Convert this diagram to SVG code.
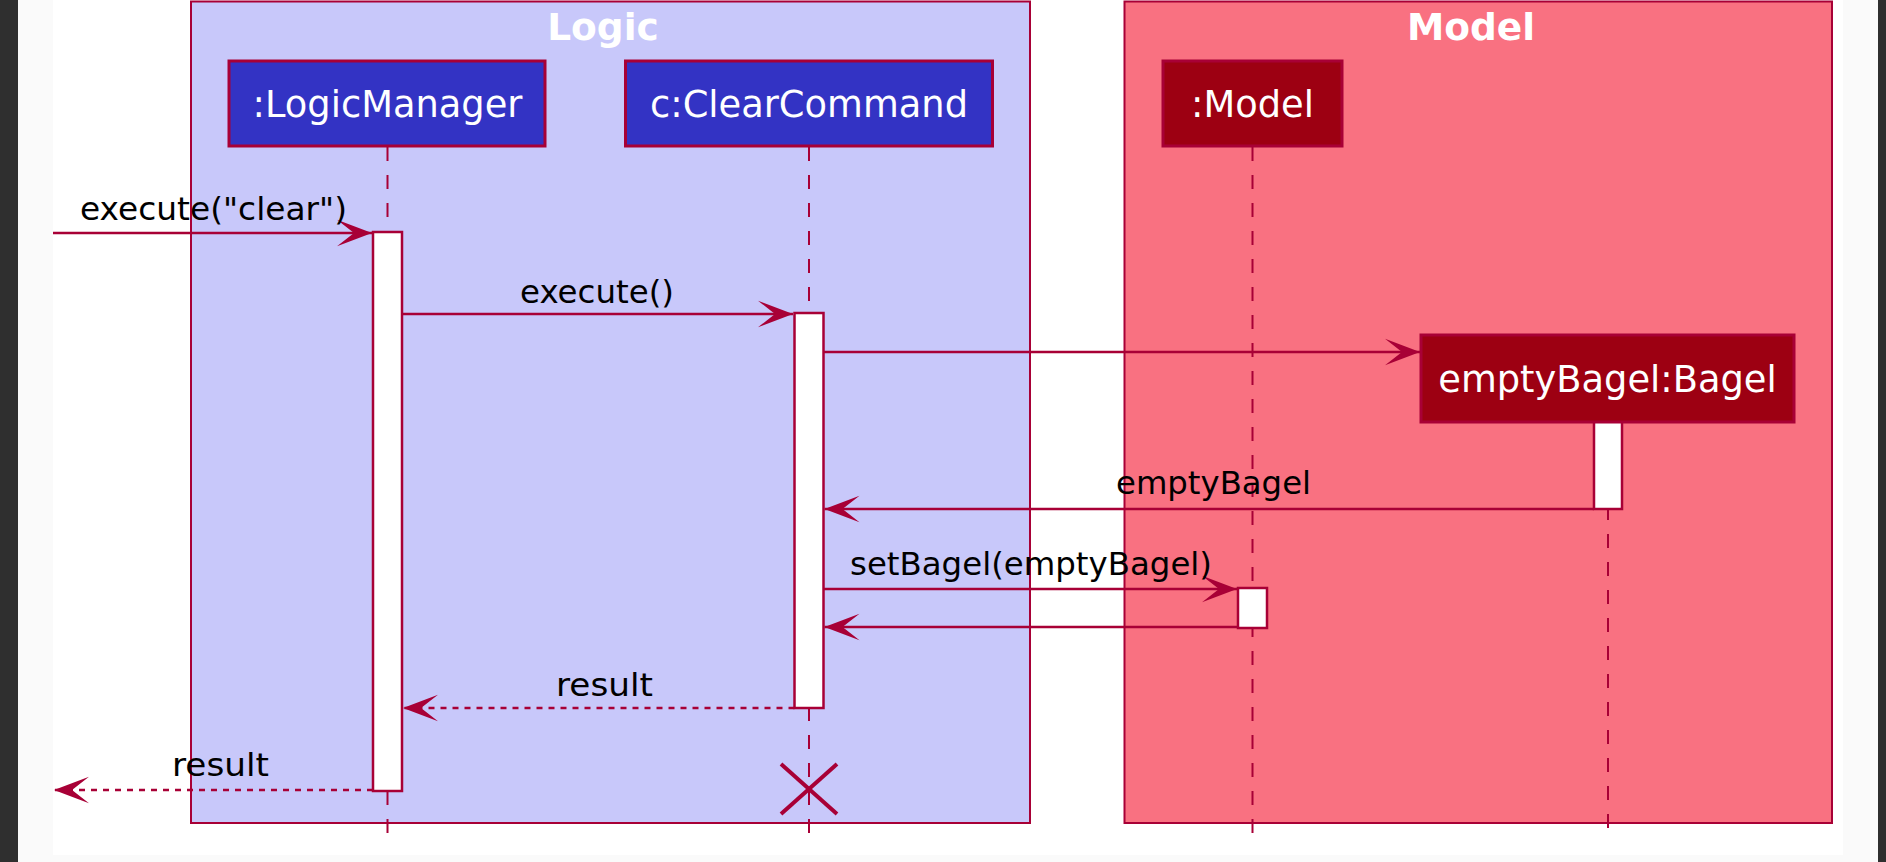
<svg xmlns="http://www.w3.org/2000/svg" width="1886" height="862" viewBox="0 0 1886 862">
  <defs>
    <style>
      .frame { stroke: #A80036; stroke-width: 2; }
      .title { font-family: "DejaVu Sans", sans-serif; font-weight: bold; font-size: 37.5px; fill: #FFFFFF; text-anchor: middle; }
      .part { stroke: #A80036; stroke-width: 3; }
      .ptext { font-family: "DejaVu Sans", sans-serif; font-size: 36.8px; fill: #FFFFFF; text-anchor: middle; }
      .life { stroke: #A80036; stroke-width: 2; stroke-dasharray: 14,14; fill: none; }
      .act { fill: #FFFFFF; stroke: #A80036; stroke-width: 2.5; }
      .msg { stroke: #A80036; stroke-width: 2.5; fill: none; marker-end: url(#arr); }
      .ret { stroke-dasharray: 6,6; }
      .mtext { font-family: "DejaVu Sans", sans-serif; font-size: 32.5px; fill: #000000; }
    </style>
    <marker id="arr" markerUnits="userSpaceOnUse" markerWidth="36" markerHeight="28" viewBox="0 0 36 28" refX="35" refY="14" orient="auto">
      <path d="M35,14 L0,0.7 L17,14 L0,27.3 Z" fill="#A80036"/>
    </marker>
  </defs>

  <!-- page background -->
  <rect x="0" y="0" width="1886" height="862" fill="#FAFAFA"/>
  <rect x="53" y="0" width="1790" height="855" fill="#FFFFFF"/>
  <rect x="0" y="0" width="18" height="862" fill="#2F2F2F"/>
  <rect x="1878" y="0" width="8" height="862" fill="#2F2F2F"/>

  <!-- boxes -->
  <g id="box-logic">
    <rect class="frame" x="191" y="1.5" width="839" height="821.5" fill="#C8C8FA"/>
    <text class="title" x="603" y="39.5">Logic</text>
  </g>
  <g id="box-model">
    <rect class="frame" x="1124.5" y="1.5" width="707.5" height="821.5" fill="#F97181"/>
    <text class="title" x="1471" y="39.5">Model</text>
  </g>

  <!-- lifelines -->
  <g id="lifelines">
    <line class="life" x1="387.5" y1="147" x2="387.5" y2="841"/>
    <line class="life" x1="809" y1="147" x2="809" y2="841"/>
    <line class="life" x1="1252.5" y1="147" x2="1252.5" y2="841"/>
    <line class="life" x1="1608" y1="422" x2="1608" y2="841"/>
  </g>

  <!-- participants -->
  <g id="logicManager">
    <rect class="part" x="229" y="61" width="316" height="85" fill="#3333C4"/>
    <text class="ptext" x="387.5" y="117">:LogicManager</text>
    <rect class="act" x="373" y="232" width="29" height="559"/>
  </g>
  <g id="clearCommand">
    <rect class="part" x="625.5" y="61" width="367" height="85" fill="#3333C4"/>
    <text class="ptext" x="809" y="117">c:ClearCommand</text>
    <rect class="act" x="794.5" y="313" width="29" height="395"/>
    <g id="destroy">
      <line x1="781" y1="764" x2="837" y2="814" stroke="#A80036" stroke-width="4"/>
      <line x1="837" y1="764" x2="781" y2="814" stroke="#A80036" stroke-width="4"/>
    </g>
  </g>
  <g id="model">
    <rect class="part" x="1163" y="61" width="179" height="85" fill="#9D0012"/>
    <text class="ptext" x="1252.5" y="117">:Model</text>
    <rect class="act" x="1238" y="588" width="29" height="40"/>
  </g>
  <g id="emptyBagel">
    <rect class="act" x="1594" y="421" width="28" height="88"/>
    <rect class="part" x="1421" y="335" width="373" height="87" fill="#9D0012"/>
    <text class="ptext" x="1607.5" y="391.5">emptyBagel:Bagel</text>
  </g>

  <!-- connectors -->
  <g id="connectors">
    <line class="msg" x1="53" y1="233" x2="372" y2="233"/>
    <text class="mtext" x="80" y="220" textLength="267" lengthAdjust="spacingAndGlyphs">execute("clear")</text>

    <line class="msg" x1="402" y1="314" x2="793" y2="314"/>
    <text class="mtext" x="520" y="303" textLength="154" lengthAdjust="spacingAndGlyphs">execute()</text>

    <line class="msg" x1="823.5" y1="352" x2="1420" y2="352"/>

    <line class="msg" x1="1594" y1="509" x2="824.5" y2="509"/>
    <text class="mtext" x="1116" y="494" textLength="195" lengthAdjust="spacingAndGlyphs">emptyBagel</text>

    <line class="msg" x1="823.5" y1="589" x2="1237" y2="589"/>
    <text class="mtext" x="850" y="575" textLength="362" lengthAdjust="spacingAndGlyphs">setBagel(emptyBagel)</text>

    <line class="msg" x1="1238" y1="627" x2="824.5" y2="627"/>

    <line class="msg ret" x1="794.5" y1="708" x2="403" y2="708"/>
    <text class="mtext" x="556" y="696" textLength="97" lengthAdjust="spacingAndGlyphs">result</text>

    <line class="msg ret" x1="373" y1="790" x2="54" y2="790"/>
    <text class="mtext" x="172" y="776" textLength="97" lengthAdjust="spacingAndGlyphs">result</text>
  </g>
</svg>
